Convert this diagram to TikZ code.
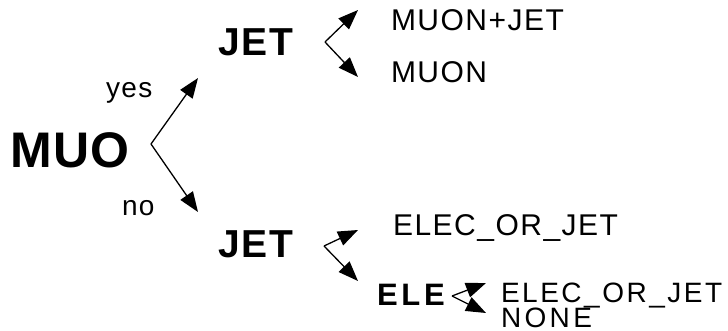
\documentclass[tikz,border=0pt]{standalone}
\usepackage{fontspec}
\setmainfont{Liberation Sans}
% letter-spaced variants of the same family
\newfontfamily\spA[LetterSpace=3]{Liberation Sans}
\newfontfamily\spB[LetterSpace=5]{Liberation Sans}
\newfontfamily\spC[LetterSpace=9]{Liberation Sans}
\newfontfamily\spD[LetterSpace=12]{Liberation Sans}
\usetikzlibrary{arrows.meta}
\tikzset{
  lbl/.style={anchor=base west, inner sep=0pt, outer sep=0pt},
  big/.style={lbl, font=\spA\bfseries\fontsize{50}{50}\selectfont},
  mid/.style={lbl, font=\spB\bfseries\fontsize{39}{39}\selectfont},
  small/.style={lbl, font=\spD\bfseries\fontsize{31}{31}\selectfont},
  outc/.style={lbl, font=\spB\fontsize{30}{30}\selectfont},
  word/.style={lbl, font=\spB\fontsize{28}{28}\selectfont},
  branch/.style={line width=1.3pt, -{Triangle[length=20pt,width=15pt]}}
}
\begin{document}
\begin{tikzpicture}[x=1pt,y=-1pt]
  \useasboundingbox (0,0) rectangle (728,331);

  % decision labels
  \node[big] (muo) at (10,168) {MUO};
  \node[mid] (jetA) at (218,56) {JET};
  \node[mid] (jetB) at (218,257) {JET};
  \node[small] (ele) at (377,305) {ELE};

  % branch labels
  \node[word] (yes) at (106,98) {yes};
  \node[word] (no) at (122,215) {no};

  % outcomes
  \node[outc] (mj) at (391,31) {MUON+JET};
  \node[outc] (mu) at (391,83) {MUON};
  \node[outc] (eoj1) at (393,235) {ELEC\_OR\_JET};
  \node[lbl, font=\spC\fontsize{28}{28}\selectfont] (eoj2) at (501,302) {ELEC\_OR\_JET};
  \node[lbl, font=\spD\fontsize{28}{28}\selectfont] (none) at (501,327) {NONE};

  % branch points and arrow ends
  \coordinate (b0) at (151,144);
  \coordinate (t0a) at (198,78);
  \coordinate (t0b) at (198,212);
  \coordinate (b1) at (325,42);
  \coordinate (t1a) at (358,10);
  \coordinate (t1b) at (358,77);
  \coordinate (b2) at (324,246);
  \coordinate (t2a) at (358,230);
  \coordinate (t2b) at (358,281);
  \coordinate (b3) at (452,296);
  \coordinate (t3a) at (486,283);
  \coordinate (t3b) at (486,313);

  \draw[branch] (b0) -- (t0a);
  \draw[branch] (b0) -- (t0b);
  \draw[branch] (b1) -- (t1a);
  \draw[branch] (b1) -- (t1b);
  \draw[branch] (b2) -- (t2a);
  \draw[branch] (b2) -- (t2b);
  \draw[branch] (b3) -- (t3a);
  \draw[branch] (b3) -- (t3b);
\end{tikzpicture}
\end{document}
